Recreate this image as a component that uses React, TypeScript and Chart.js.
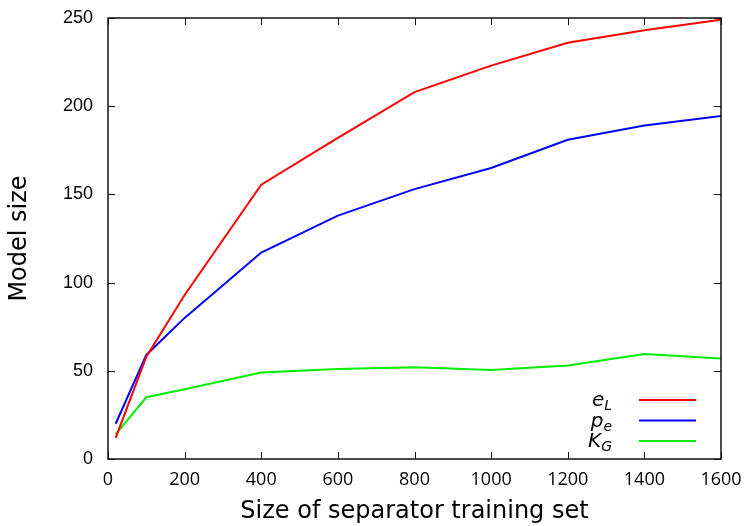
import React, { useEffect, useRef } from "react";
import { Chart, registerables } from "chart.js";

Chart.register(...registerables);

const xValues = [20, 100, 200, 400, 600, 800, 1000, 1200, 1400, 1600];
const eL = [12, 58, 93, 155.5, 182, 208, 223, 236, 243, 249];
const pe = [20, 59, 80, 117, 138, 153, 165, 181, 189, 194.5];
const KG = [14, 35, 39.5, 49, 51, 52, 50.5, 53, 59.5, 57];
const seriesNames = [
  { main: "e", sub: "L" },
  { main: "p", sub: "e" },
  { main: "K", sub: "G" },
];
const seriesColors = ["#ff0000", "#0000ff", "#00ee00"];
const xTicks = [0, 200, 400, 600, 800, 1000, 1200, 1400, 1600];
const yTicks = [0, 50, 100, 150, 200, 250];

const FONT = "'DejaVu Sans', sans-serif";

const framePlugin = {
  id: "frame",
  afterDatasetsDraw(chart: any) {
    const { ctx, chartArea } = chart;
    const { left, right, top, bottom } = chartArea;
    const xs = chart.scales.x;
    const ys = chart.scales.y;
    ctx.save();
    ctx.strokeStyle = "#111";
    ctx.lineWidth = 1.5;
    ctx.strokeRect(left, top, right - left, bottom - top);
    const tl = 7;
    ctx.lineWidth = 1;
    ctx.beginPath();
    xTicks.forEach((v) => {
      const px = Math.round(xs.getPixelForValue(v)) + 0.5;
      ctx.moveTo(px, bottom);
      ctx.lineTo(px, bottom - tl);
      ctx.moveTo(px, top);
      ctx.lineTo(px, top + tl);
    });
    yTicks.forEach((v) => {
      const py = Math.round(ys.getPixelForValue(v)) + 0.5;
      ctx.moveTo(left, py);
      ctx.lineTo(left + tl, py);
      ctx.moveTo(right, py);
      ctx.lineTo(right - tl, py);
    });
    ctx.stroke();

    // legend
    const textRight = right - 109;
    const lineX0 = right - 82;
    const lineX1 = right - 25;
    const rowY0 = bottom - 59;
    const rowGap = 20.5;
    seriesNames.forEach((n, i) => {
      const y = rowY0 + i * rowGap;
      ctx.font = `italic 20px ${FONT}`;
      const mw = ctx.measureText(n.main).width;
      ctx.font = `italic 14px ${FONT}`;
      const sw = ctx.measureText(n.sub).width;
      const x0 = textRight - mw - sw;
      ctx.fillStyle = "#000";
      ctx.textBaseline = "alphabetic";
      ctx.textAlign = "left";
      ctx.font = `italic 20px ${FONT}`;
      ctx.fillText(n.main, x0, y + 6);
      ctx.font = `italic 14px ${FONT}`;
      ctx.fillText(n.sub, x0 + mw, y + 10);
      ctx.strokeStyle = seriesColors[i];
      ctx.lineWidth = 2;
      ctx.beginPath();
      ctx.moveTo(lineX0, y);
      ctx.lineTo(lineX1, y);
      ctx.stroke();
    });
    ctx.restore();
  },
};

export default function App() {
  const ref = useRef<HTMLCanvasElement>(null);
  useEffect(() => {
    if (!ref.current) return;
    const mk = (vals: number[]) => xValues.map((x, i) => ({ x, y: vals[i] }));
    const chart = new Chart(ref.current, {
      type: "line",
      data: {
        datasets: [eL, pe, KG].map((vals, i) => ({
          label: seriesNames[i].main + seriesNames[i].sub,
          data: mk(vals),
          borderColor: seriesColors[i],
          backgroundColor: seriesColors[i],
          borderWidth: 2,
          pointRadius: 0,
          tension: 0,
          fill: false,
        })),
      },
      options: {
        animation: false,
        responsive: false,
        maintainAspectRatio: false,
        layout: { padding: { left: 0, right: 29, top: 18, bottom: 0 } },
        plugins: { legend: { display: false }, tooltip: { enabled: false } },
        scales: {
          x: {
            type: "linear",
            min: 0,
            max: 1600,
            afterBuildTicks: (s: any) => {
              s.ticks = xTicks.map((v) => ({ value: v }));
            },
            afterFit: (s: any) => {
              s.height = 67;
              s.paddingLeft = 0;
              s.paddingRight = 0;
              s.paddingTop = 0;
              s.paddingBottom = 0;
            },
            grid: { display: false, drawTicks: false },
            border: { display: false },
            ticks: {
              padding: 10,
              color: "#000",
              font: { family: "'Open Sans', sans-serif", size: 18 },
              maxRotation: 0,
              callback: (v: any) => String(v),
            },
            title: {
              display: true,
              text: "Size of separator training set",
              color: "#000",
              font: { family: FONT, size: 24 },
              padding: { top: 0, bottom: 0 },
            },
          },
          y: {
            type: "linear",
            min: 0,
            max: 250,
            afterBuildTicks: (s: any) => {
              s.ticks = yTicks.map((v) => ({ value: v }));
            },
            afterFit: (s: any) => {
              s.width = 108;
              s.paddingLeft = 0;
              s.paddingRight = 0;
              s.paddingTop = 0;
              s.paddingBottom = 0;
            },
            grid: { display: false, drawTicks: false },
            border: { display: false },
            ticks: {
              padding: 15,
              color: "#000",
              font: { family: "'Liberation Sans', sans-serif", size: 18 },
              callback: (v: any) => String(v),
            },
            title: {
              display: true,
              text: "Model size",
              color: "#000",
              font: { family: FONT, size: 24 },
              padding: { top: 5, bottom: 0 },
            },
          },
        },
      },
      plugins: [framePlugin],
    });
    return () => chart.destroy();
  }, []);
  return (
    <div style={{ position: "absolute", left: 0, top: 0, width: 750, height: 526, background: "#fff" }}>
      <canvas ref={ref} width={750} height={526} style={{ width: 750, height: 526 }} />
    </div>
  );
}
